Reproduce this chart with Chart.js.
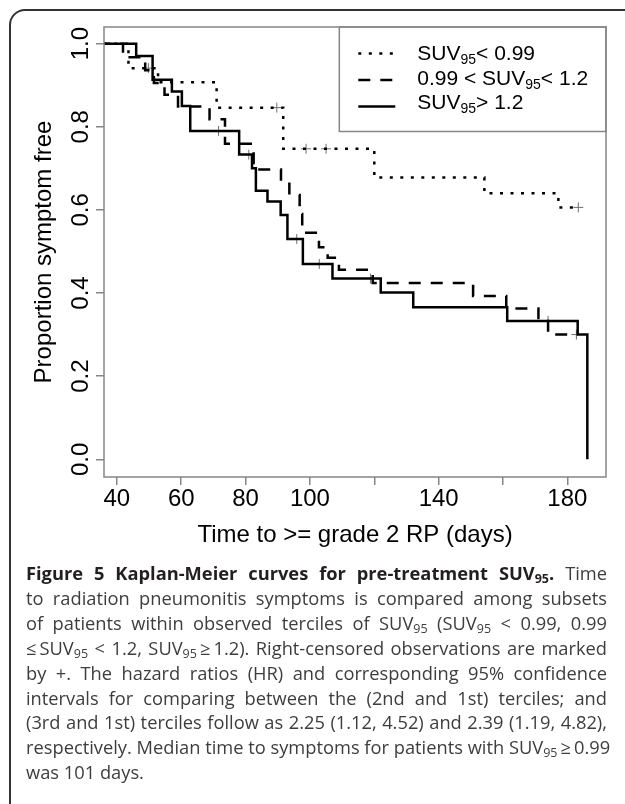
<!DOCTYPE html>
<html>
<head>
<meta charset="utf-8">
<title>Kaplan-Meier curves for pre-treatment SUV95</title>
<script src="https://cdn.jsdelivr.net/npm/chart.js@4.4.1/dist/chart.umd.min.js"></script>
<style>
  html, body { margin: 0; padding: 0; background: #fff; }
  body { width: 625px; height: 804px; position: relative; overflow: hidden; }
  #km { position: absolute; left: 0; top: 0; }
  .frame {
    position: absolute; left: 9px; top: 9px; width: 720px; height: 900px;
    border: 2px solid #333; border-radius: 16px; box-sizing: border-box; pointer-events: none;
  }
  .caption {
    position: absolute; left: 26px; top: 561px; width: 581px;
    font-family: 'Open Sans', sans-serif; font-size: 18.3px; line-height: 24.9px; color: #3d3d3d;
  }
  .caption div { text-align: justify; text-align-last: justify; white-space: nowrap; }
  .caption div.last { text-align-last: left; }
  .caption b { color: #231f20; }
  .caption sub { font-size: 12.5px; line-height: 0; vertical-align: -3px; }
</style>
</head>
<body>
<canvas id="km" width="625" height="560"></canvas>
<div class="frame"></div>
<div class="caption">
  <div><b>Figure 5 Kaplan-Meier curves for pre-treatment SUV<sub>95</sub>.</b> Time</div>
  <div>to radiation pneumonitis symptoms is compared among subsets</div>
  <div>of patients within observed terciles of SUV<sub>95</sub> (SUV<sub>95</sub> &lt; 0.99, 0.99</div>
  <div>&le;&#8201;SUV<sub>95</sub> &lt; 1.2, SUV<sub>95</sub>&#8201;&ge;&#8201;1.2). Right-censored observations are marked</div>
  <div>by +. The hazard ratios (HR) and corresponding 95% confidence</div>
  <div>intervals for comparing between the (2nd and 1st) terciles; and</div>
  <div>(3rd and 1st) terciles follow as 2.25 (1.12, 4.52) and 2.39 (1.19, 4.82),</div>
  <div>respectively. Median time to symptoms for patients with SUV<sub>95</sub>&#8201;&ge;&#8201;0.99</div>
  <div class="last">was 101 days.</div>
</div>
<script>
/* ---- DATA ---- */
// SUV95 < 0.99 (dotted)
const lowTimes = [0, 43.6, 52.8, 71, 91.7, 120, 154.2, 177.2, 183.4];
const lowSurv  = [1, 0.941, 0.907, 0.846, 0.747, 0.678, 0.640, 0.606, 0.606];
const lowCensTimes = [49.8, 89.7, 98.8, 105, 183.4];
const lowCensSurv  = [0.941, 0.846, 0.747, 0.747, 0.606];

// 0.99 < SUV95 < 1.2 (dashed)
const midTimes = [0, 41.9, 48.8, 51.5, 54.8, 59, 68.8, 73.6, 82.5, 91, 93.6, 96.8, 97.6, 102.8, 105.5, 109, 119.5, 150.7, 161, 171, 174, 182.8];
const midSurv  = [1, 0.967, 0.936, 0.905, 0.877, 0.849, 0.818, 0.759, 0.697, 0.667, 0.636, 0.590, 0.545, 0.510, 0.485, 0.456, 0.424, 0.393, 0.363, 0.333, 0.300, 0.300];
const midCensTimes = [182.8];
const midCensSurv  = [0.300];

// SUV95 > 1.2 (solid)
const highTimes = [0, 46, 51.1, 57.1, 60.2, 62.8, 78, 82, 83.2, 86.8, 90.9, 93, 97.8, 107, 122, 132.1, 161.3, 183.2, 186.2];
const highSurv  = [1, 0.970, 0.913, 0.885, 0.850, 0.790, 0.733, 0.700, 0.646, 0.620, 0.588, 0.530, 0.470, 0.435, 0.401, 0.366, 0.333, 0.300, 0];
const highCensTimes = [71.6, 81, 95.9, 102.9, 118.8, 174];
const highCensSurv  = [0.790, 0.733, 0.530, 0.470, 0.435, 0.333];

const xTicks = [40, 60, 80, 100, 120, 140, 160, 180];
const xTickLabels = [40, 60, 80, 100, 140, 180];   // R drops 120 and 160 (overlap)
const yTicks = [0, 0.2, 0.4, 0.6, 0.8, 1.0];

const xTitle = 'Time to >= grade 2 RP (days)';
const yTitle = 'Proportion symptom free';

// legend rows: text, subscript, text after
const legendRows = [
  ['SUV', '95', '< 0.99'],
  ['0.99 < SUV', '95', '< 1.2'],
  ['SUV', '95', '> 1.2']
];

/* ---- STYLE ---- */
const FONT = "'Liberation Sans', Arial, Helvetica, sans-serif";
const BOX_GRAY = '#868686';
const DASHES = [[3, 7.5], [12, 10], []];

/* ---- HELPERS ---- */
function pts(xs, ys) {
  return xs.map((x, i) => ({ x: x, y: ys[i] }));
}

function curve(label, xs, ys, dash) {
  return {
    label, data: pts(xs, ys), stepped: true,
    borderColor: '#000', borderWidth: 2.5, borderDash: dash,
    borderCapStyle: 'butt', borderJoinStyle: 'miter',
    pointRadius: 0, fill: false, clip: 0
  };
}

function censor(xs, ys) {
  return {
    label: 'censored', data: pts(xs, ys), showLine: false,
    pointStyle: 'cross', pointRadius: 5, pointBorderWidth: 1,
    pointBorderColor: '#6f6f6f', borderColor: '#6f6f6f', clip: 0
  };
}

/* ---- BOX + LEGEND ---- */
const boxAndLegend = {
  id: 'boxAndLegend',
  afterDatasetsDraw(chart) {
    const { ctx, chartArea: a } = chart;
    ctx.save();
    ctx.setLineDash([]);
    ctx.strokeStyle = BOX_GRAY;
    ctx.lineWidth = 1.5;
    ctx.strokeRect(a.left, a.top, a.right - a.left, a.bottom - a.top);

    const lx = a.right - 266.7;
    const lb = a.top + 104.5;
    ctx.strokeRect(lx, a.top, a.right - lx, lb - a.top);

    legendRows.forEach((row, i) => {
      const sy = a.top + 26.5 + 26.5 * i;
      ctx.strokeStyle = '#000';
      ctx.lineWidth = 2.5;
      ctx.lineCap = 'butt';
      ctx.setLineDash(DASHES[i]);
      ctx.beginPath();
      ctx.moveTo(lx + 19, sy);
      ctx.lineTo(lx + 56, sy);
      ctx.stroke();

      const by = a.top + 33.3 + 24.5 * i;
      let tx = lx + 78;
      ctx.fillStyle = '#000';
      ctx.textBaseline = 'alphabetic';
      ctx.textAlign = 'left';
      ctx.font = '21px ' + FONT;
      ctx.fillText(row[0], tx, by);
      tx += ctx.measureText(row[0]).width;
      ctx.font = '14px ' + FONT;
      ctx.fillText(row[1], tx, by + 4);
      tx += ctx.measureText(row[1]).width;
      ctx.font = '21px ' + FONT;
      ctx.fillText(row[2], tx, by);
    });
    ctx.restore();
  }
};

/* ---- CHART ---- */
new Chart(document.getElementById('km'), {
  type: 'line',
  data: {
    datasets: [
      curve('SUV95 < 0.99', lowTimes, lowSurv, DASHES[0]),
      curve('0.99 < SUV95 < 1.2', midTimes, midSurv, DASHES[1]),
      curve('SUV95 > 1.2', highTimes, highSurv, DASHES[2]),
      censor(lowCensTimes, lowCensSurv),
      censor(midCensTimes, midCensSurv),
      censor(highCensTimes, highCensSurv)
    ]
  },
  options: {
    responsive: false,
    animation: false,
    layout: { padding: { top: 27, right: 19, left: 0, bottom: 0 } },
    plugins: { legend: { display: false }, tooltip: { enabled: false } },
    scales: {
      x: {
        type: 'linear', min: 36, max: 192,
        afterBuildTicks: s => { s.ticks = xTicks.map(v => ({ value: v })); },
        afterFit: s => { s.height = 83; },
        grid: { drawOnChartArea: false, tickLength: 8, color: BOX_GRAY, lineWidth: 1.5 },
        border: { display: false },
        ticks: {
          font: { family: FONT, size: 24 }, color: '#000', padding: 0,
          maxRotation: 0, autoSkip: false,
          callback: v => xTickLabels.includes(v) ? String(v) : ''
        },
        title: {
          display: true, text: xTitle, color: '#000',
          font: { family: FONT, size: 24 }, padding: { bottom: 10.5 }
        }
      },
      y: {
        type: 'linear', min: -0.0426, max: 1.04,
        afterBuildTicks: s => { s.ticks = yTicks.map(v => ({ value: v })); },
        afterFit: s => { s.width = 104; },
        grid: { drawOnChartArea: false, tickLength: 8, color: BOX_GRAY, lineWidth: 1.5 },
        border: { display: false },
        ticks: {
          font: { family: FONT, size: 24 }, color: '#000', padding: -2,
          minRotation: 90, maxRotation: 90, crossAlign: 'center',
          callback: v => v.toFixed(1)
        },
        title: {
          display: true, text: yTitle, color: '#000',
          font: { family: FONT, size: 24 }, padding: { top: 30.3 }
        }
      }
    }
  },
  plugins: [boxAndLegend]
});
</script>
</body>
</html>
